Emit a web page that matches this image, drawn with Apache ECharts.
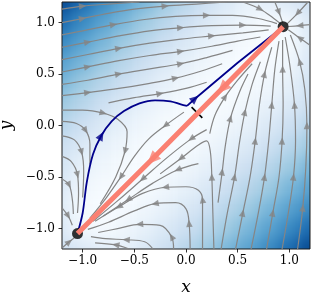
<!DOCTYPE html>
<html><head><meta charset="utf-8">
<script src="https://cdn.jsdelivr.net/npm/echarts@6/dist/echarts.min.js"></script>
<style>
html,body{margin:0;padding:0;background:#fff;}
#wrap{position:relative;width:312px;height:295px;overflow:hidden;}
#clip{position:absolute;left:62px;top:2px;width:248px;height:247px;overflow:hidden;}
#heat{position:absolute;filter:blur(7px);}
#main{position:absolute;left:0;top:0;width:312px;height:295px;}
</style></head><body>
<div id="wrap"><div id="clip"><div id="heat"></div></div><div id="main"></div></div>
<script>
// ---------- data ----------
const tickValues = [-1, -0.5, 0, 0.5, 1];
const tickLabels = ['\u22121.0', '\u22120.5', '0.0', '0.5', '1.0'];
const heatX = [-1.2, -1.0, -0.8, -0.6, -0.4, -0.2, 0, 0.2, 0.4, 0.6, 0.8, 1.0, 1.2];
const heatY = [1.2, 1.0, 0.8, 0.6, 0.4, 0.2, 0, -0.2, -0.4, -0.6, -0.8, -1.0, -1.2]; // rows, top to bottom
const heatRows = [
  [0.90,0.77,0.65,0.55,0.46,0.37,0.29,0.21,0.14,0.08,0.10,0.13,0.20],
  [0.77,0.65,0.55,0.46,0.37,0.29,0.21,0.14,0.08,0.04,0.01,0.03,0.13],
  [0.65,0.55,0.46,0.37,0.29,0.21,0.14,0.08,0.04,0.01,0.00,0.01,0.12],
  [0.55,0.46,0.37,0.29,0.21,0.14,0.08,0.04,0.01,0.00,0.01,0.04,0.14],
  [0.46,0.37,0.29,0.21,0.14,0.08,0.04,0.01,0.00,0.01,0.04,0.08,0.18],
  [0.37,0.29,0.21,0.14,0.08,0.04,0.01,0.00,0.01,0.04,0.08,0.14,0.21],
  [0.29,0.21,0.14,0.08,0.04,0.01,0.00,0.01,0.04,0.08,0.14,0.21,0.29],
  [0.21,0.14,0.08,0.04,0.01,0.00,0.01,0.04,0.08,0.14,0.21,0.29,0.37],
  [0.17,0.08,0.04,0.01,0.00,0.01,0.04,0.08,0.14,0.21,0.29,0.37,0.46],
  [0.13,0.04,0.01,0.00,0.01,0.04,0.08,0.14,0.21,0.29,0.37,0.46,0.55],
  [0.11,0.01,0.00,0.01,0.04,0.08,0.14,0.21,0.29,0.37,0.46,0.55,0.65],
  [0.13,0.03,0.01,0.04,0.08,0.14,0.21,0.29,0.37,0.46,0.55,0.65,0.77],
  [0.20,0.13,0.10,0.08,0.14,0.21,0.29,0.37,0.46,0.55,0.65,0.77,0.90]
];
const bluesColors = ['#f7fbff','#deebf7','#c6dbef','#9ecae1','#6baed6','#4292c6','#2171b5','#08519c','#08306b'];

const pointStart = [0.94, 0.96];
const pointEnd = [-1.05, -1.05];
const salmonPts = [[0.94,0.96],[0.35,0.36],[-0.33,-0.33],[-1.05,-1.05]];
const salmonArrows = [1, 2];
const navyPts = [[-1.05,-1.05],[-1.0,-0.85],[-0.96,-0.55],[-0.9,-0.28],[-0.82,-0.1],[-0.72,0.04],[-0.6,0.14],[-0.45,0.215],[-0.3,0.245],[-0.15,0.235],[-0.05,0.205],[0.01,0.19],[0.087,0.26],[0.5,0.61],[0.94,0.96]];
const navyArrows = [4, 12];
const navyKink = 11;
const saddleMark = [[0.054,0.178],[0.158,0.074]];

const streamPts = [
  [[-1.2,1.13],[-1.0,1.16],[-0.75,1.18],[-0.45,1.2]],
  [[-1.2,1.0],[-1.0,1.04],[-0.75,1.09],[-0.5,1.13],[-0.2,1.16],[0.1,1.18],[0.4,1.2]],
  [[-1.2,0.88],[-1.0,0.92],[-0.7,0.98],[-0.4,1.03],[-0.1,1.06],[0.2,1.07],[0.45,1.07],[0.7,1.04],[0.88,0.99]],
  [[-1.2,0.76],[-0.95,0.81],[-0.65,0.87],[-0.35,0.92],[-0.05,0.95],[0.25,0.97],[0.55,0.975],[0.82,0.965]],
  [[-1.2,0.64],[-0.95,0.69],[-0.65,0.75],[-0.35,0.8],[-0.05,0.84],[0.25,0.87],[0.55,0.9],[0.8,0.93]],
  [[-1.2,0.52],[-0.95,0.57],[-0.65,0.63],[-0.35,0.68],[-0.05,0.72],[0.25,0.77],[0.5,0.82],[0.72,0.86]],
  [[-1.2,0.4],[-0.95,0.44],[-0.65,0.5],[-0.35,0.55],[-0.05,0.6],[0.2,0.66],[0.45,0.73]],
  [[-1.2,0.29],[-0.95,0.32],[-0.65,0.36],[-0.35,0.41],[-0.1,0.46],[0.15,0.53],[0.35,0.6]],
  [[-0.75,0.22],[-0.5,0.27],[-0.25,0.31],[0.0,0.36],[0.2,0.42]],
  [[0.55,1.2],[0.72,1.13],[0.85,1.04],[0.92,0.985]],
  [[0.86,1.2],[0.9,1.1],[0.935,1.0]],
  [[1.18,1.2],[1.08,1.09],[0.975,0.985]],
  [[1.2,0.98],[1.1,0.97],[0.99,0.962]],
  [[1.2,0.78],[1.1,0.85],[0.99,0.93]],
  [[1.08,-1.2],[1.13,-0.8],[1.16,-0.4],[1.17,0.0],[1.15,0.35],[1.1,0.62],[1.01,0.88]],
  [[0.93,-1.2],[0.99,-0.85],[1.04,-0.5],[1.06,-0.15],[1.05,0.2],[1.01,0.55],[0.96,0.86]],
  [[0.78,-1.2],[0.84,-0.85],[0.9,-0.5],[0.93,-0.15],[0.94,0.2],[0.935,0.55],[0.935,0.83]],
  [[0.63,-1.2],[0.7,-0.85],[0.76,-0.5],[0.8,-0.15],[0.83,0.2],[0.86,0.55],[0.9,0.82]],
  [[0.48,-1.2],[0.55,-0.85],[0.62,-0.5],[0.67,-0.15],[0.71,0.2],[0.76,0.5],[0.83,0.76]],
  [[0.34,-1.2],[0.4,-0.85],[0.47,-0.5],[0.52,-0.15],[0.57,0.13],[0.64,0.4],[0.72,0.62]],
  [[0.31,-0.75],[0.35,-0.45],[0.38,-0.2],[0.43,0.07],[0.52,0.33],[0.6,0.5]],
  [[0.23,-0.08],[0.28,0.1],[0.38,0.28],[0.5,0.44],[0.64,0.6]],
  [[0.27,-1.2],[0.26,-0.85],[0.25,-0.5],[0.235,-0.25],[0.2,-0.15],[0.12,-0.19],[-0.05,-0.32],[-0.25,-0.47]],
  [[0.16,-1.2],[0.16,-0.9],[0.16,-0.72],[0.12,-0.63],[0.0,-0.595],[-0.2,-0.6],[-0.42,-0.66],[-0.65,-0.79],[-0.88,-0.93]],
  [[0.04,-1.2],[0.03,-0.95],[0.0,-0.81],[-0.1,-0.75],[-0.3,-0.76],[-0.5,-0.83],[-0.75,-0.94],[-0.95,-1.01]],
  [[-0.12,-1.2],[-0.14,-1.08],[-0.25,-0.97],[-0.45,-0.96],[-0.65,-1.0],[-0.85,-1.04]],
  [[-0.32,-1.2],[-0.4,-1.13],[-0.58,-1.11],[-0.78,-1.1],[-0.92,-1.08]],
  [[-0.55,-1.2],[-0.68,-1.16],[-0.88,-1.14]],
  [[-0.02,0.13],[-0.2,0.0],[-0.36,-0.13],[-0.5,-0.3],[-0.63,-0.5],[-0.77,-0.7],[-0.93,-0.9]],
  [[0.2,-0.04],[0.05,-0.13],[-0.18,-0.31],[-0.42,-0.52],[-0.66,-0.73],[-0.9,-0.93]],
  [[0.12,-0.37],[-0.08,-0.43],[-0.32,-0.56],[-0.56,-0.72],[-0.8,-0.88]],
  [[-1.2,0.15],[-1.0,0.15],[-0.8,0.12],[-0.66,0.06],[-0.57,-0.06],[-0.59,-0.25],[-0.68,-0.5],[-0.83,-0.76]],
  [[-1.2,0.04],[-1.06,0.02],[-0.97,-0.05],[-0.93,-0.18],[-0.93,-0.38]],
  [[-1.2,-0.1],[-1.08,-0.14],[-1.01,-0.26],[-0.99,-0.45],[-1.0,-0.7]],
  [[-1.2,-0.3],[-1.11,-0.35],[-1.05,-0.48],[-1.04,-0.66],[-1.05,-0.85]],
  [[-1.2,-0.52],[-1.13,-0.58],[-1.1,-0.72],[-1.09,-0.86]],
  [[-1.2,-0.8],[-1.14,-0.88],[-1.1,-0.97]],
  [[-1.2,-1.19],[-1.13,-1.13],[-1.08,-1.09]]
];
const streamArrows = [
  [1],[1,4],[2,5],[1,4,6],[2,5],[1,4],[2,4],[1,4],[2],
  [1],[1],[1],[1],[1],
  [1,3,5],[2,4],[1,3,5],[2,4],[1,3,5],[2,4],[1,3],[2],
  [2,6],[2,5,7],[1,4],[1,3],[2],[1],
  [1,4],[1,3],[1,3],
  [2,5],[2],[2],[2],[1],[1],[1]
];

// ---------- layout ----------
const G = {left: 62, top: 2, width: 248, height: 247};
const XR = [-1.2, 1.2], YR = [-1.2, 1.2];
const UX = G.width / (XR[1] - XR[0]), UY = G.height / (YR[1] - YR[0]);

// ---------- background (heatmap, softened) ----------
const nR = heatY.length, nC = heatX.length;
const padX = [], padY = [];
for (let c = -1; c <= nC; c++) padX.push(String(c));
for (let r = -1; r <= nR; r++) padY.push(String(r));
const heatData = [];
for (let r = -1; r <= nR; r++) {
  for (let c = -1; c <= nC; c++) {
    const rr = Math.min(nR - 1, Math.max(0, r)), cc = Math.min(nC - 1, Math.max(0, c));
    heatData.push([c + 1, (nR + 1) - (r + 1), heatRows[rr][cc]]);
  }
}
const cellW = 0.2 * UX, cellH = 0.2 * UY;
const heatEl = document.getElementById('heat');
heatEl.style.width = (cellW * (nC + 2)) + 'px';
heatEl.style.height = (cellH * (nR + 2)) + 'px';
heatEl.style.left = (-(1.5 - 1.2) * UX) + 'px';
heatEl.style.top = (-(1.5 - 1.2) * UY) + 'px';
const heat = echarts.init(heatEl, null, {renderer: 'canvas'});
heat.setOption({
  animation: false,
  grid: {left: 0, right: 0, top: 0, bottom: 0, outerBoundsMode: 'none'},
  xAxis: {type: 'category', data: padX, show: false},
  yAxis: {type: 'category', data: padY, show: false},
  visualMap: {show: false, min: 0, max: 1, inRange: {color: bluesColors}},
  series: [{type: 'heatmap', data: heatData, progressive: 0, itemStyle: {borderWidth: 0}}]
});

// ---------- main chart ----------
function arrowItems(pts, idxs) {
  return idxs.map(i => {
    const a = pts[Math.max(0, i - 1)], b = pts[Math.min(pts.length - 1, i + 1)];
    const ang = Math.atan2((b[1] - a[1]) * UY, (b[0] - a[0]) * UX) * 180 / Math.PI;
    return {value: pts[i], symbolRotate: ang - 90};
  });
}
const GRAY = '#858585';
const series = [];
streamPts.forEach(p => series.push({
  type: 'line', data: p, smooth: 0.35, symbol: 'none', silent: true, z: 2,
  lineStyle: {color: GRAY, width: 1.2}
}));
let grayArrows = [];
streamPts.forEach((p, k) => { grayArrows = grayArrows.concat(arrowItems(p, streamArrows[k])); });
series.push({type: 'scatter', data: grayArrows, symbol: 'path://M0,10L5,0L10,10Z', symbolSize: [6.5, 7.5], itemStyle: {color: GRAY}, silent: true, z: 3});
series.push({type: 'line', data: saddleMark, symbol: 'none', silent: true, z: 4, lineStyle: {color: '#000', width: 1.6}});
series.push({type: 'line', data: navyPts.slice(0, navyKink + 1), smooth: 0.3, symbol: 'none', silent: true, z: 5, lineStyle: {color: '#00008b', width: 1.8}});
series.push({type: 'line', data: navyPts.slice(navyKink), symbol: 'none', silent: true, z: 5, lineStyle: {color: '#00008b', width: 1.8}});
series.push({type: 'scatter', data: arrowItems(navyPts, navyArrows), symbol: 'path://M0,10L5,0L10,10Z', symbolSize: [8, 9], itemStyle: {color: '#00008b'}, silent: true, z: 5});
series.push({type: 'scatter', data: [pointStart, pointEnd], symbol: 'circle', symbolSize: 11, itemStyle: {color: '#000'}, silent: true, z: 6});
series.push({type: 'line', data: salmonPts, symbol: 'none', silent: true, z: 7, lineStyle: {color: '#fa8072', width: 5}});
series.push({type: 'scatter', data: arrowItems(salmonPts, salmonArrows), symbol: 'path://M0,13L6,0L12,13Z', symbolSize: [12, 14], itemStyle: {color: '#fa8072'}, silent: true, z: 7});

const fmt = v => { const i = tickValues.findIndex(t => Math.abs(t - v) < 1e-9); return i >= 0 ? tickLabels[i] : ''; };
const tickFont = {fontFamily: 'DejaVu Serif', fontSize: 12, color: '#000'};
const nameFont = {fontFamily: 'DejaVu Serif', fontStyle: 'italic', fontSize: 17, color: '#000'};
const chart = echarts.init(document.getElementById('main'), null, {renderer: 'canvas'});
chart.setOption({
  animation: false,
  backgroundColor: 'transparent',
  grid: {left: G.left, top: G.top, width: G.width, height: G.height, show: true, outerBoundsMode: 'none', containLabel: false, borderColor: '#1a1a1a', borderWidth: 1, backgroundColor: 'transparent'},
  xAxis: {
    type: 'value', min: XR[0], max: XR[1],
    axisLine: {show: false, onZero: false}, splitLine: {show: false},
    axisTick: {show: true, customValues: tickValues, length: 3.5, lineStyle: {color: '#000', width: 0.8}},
    axisLabel: Object.assign({customValues: tickValues, formatter: fmt, margin: 6}, tickFont),
    name: 'x', nameLocation: 'middle', nameGap: 30, nameTextStyle: nameFont
  },
  yAxis: {
    type: 'value', min: YR[0], max: YR[1],
    axisLine: {show: false, onZero: false}, splitLine: {show: false},
    axisTick: {show: true, customValues: tickValues, length: 3.5, lineStyle: {color: '#000', width: 0.8}},
    axisLabel: Object.assign({customValues: tickValues, formatter: fmt, margin: 7}, tickFont),
    name: 'y', nameLocation: 'middle', nameGap: 45, nameTextStyle: nameFont
  },
  series: series
});
</script></body></html>
